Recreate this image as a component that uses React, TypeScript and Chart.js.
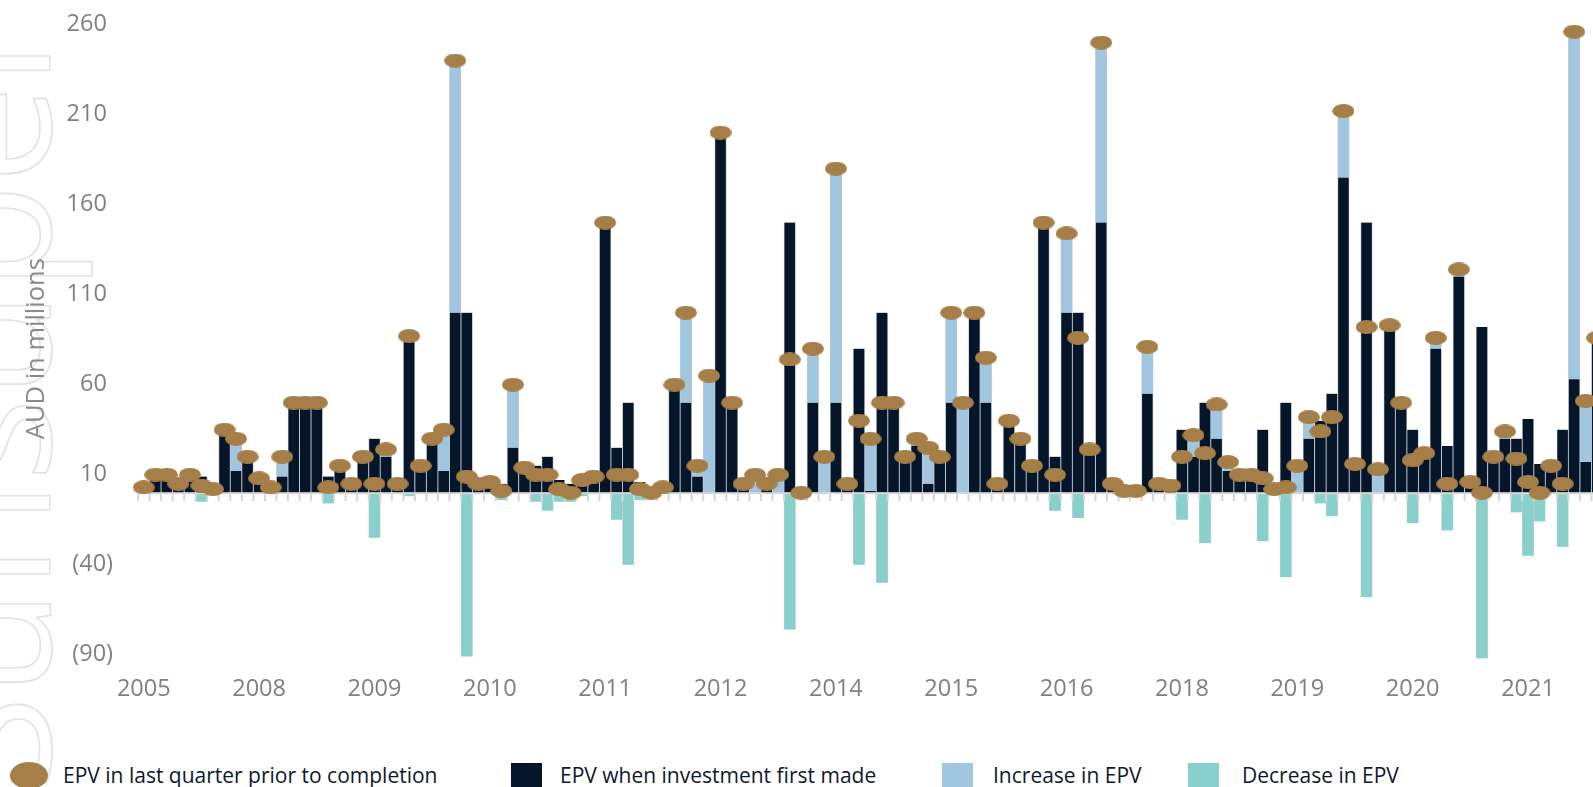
import { useEffect, useRef } from 'react';
import { Chart, registerables } from 'chart.js';

Chart.register(...registerables);

const years = [
  '2005', '2005', '2005', '2006', '2006', '2006', '2007', '2007', '2007', '2007',
  '2008', '2008', '2008', '2008', '2008', '2008', '2008', '2009', '2009', '2009',
  '2009', '2009', '2009', '2009', '2009', '2009', '2009', '2010', '2010', '2010',
  '2010', '2010', '2010', '2010', '2010', '2010', '2010', '2011', '2011', '2011',
  '2011', '2011', '2011', '2011', '2011', '2011', '2012', '2012', '2012', '2012',
  '2012', '2012', '2012', '2012', '2013', '2013', '2013', '2013', '2013', '2013',
  '2014', '2014', '2014', '2014', '2014', '2014', '2014', '2014', '2014', '2014',
  '2015', '2015', '2015', '2015', '2015', '2015', '2016', '2016', '2016', '2016',
  '2016', '2016', '2016', '2016', '2017', '2017', '2017', '2017', '2017', '2017',
  '2018', '2018', '2018', '2018', '2018', '2018', '2019', '2019', '2019', '2019',
  '2019', '2019', '2019', '2019', '2019', '2020', '2020', '2020', '2020', '2020',
  '2020', '2020', '2020', '2020', '2020', '2021', '2021', '2021', '2021', '2021',
  '2021', '2021', '2021', '2021', '2021', '2021', '2021',
];

const epvFirst = [
  3, 10, 10, 5, 10, 9, 2, 35, 12, 20,
  8, 3, 9, 50, 50, 50, 9, 15, 5, 20,
  30, 20, 5, 89, 15, 30, 12, 100, 100, 5,
  6, 5, 25, 14, 15, 20, 7, 5, 9, 9,
  150, 25, 50, 6, 1, 3, 58, 50, 9, 0,
  200, 50, 5, 0, 5, 0, 150, 0, 50, 0,
  50, 5, 80, 1, 100, 50, 20, 26, 5, 20,
  50, 0, 100, 50, 5, 40, 30, 15, 150, 20,
  100, 100, 24, 150, 5, 1, 1, 55, 5, 4,
  35, 20, 50, 30, 12, 10, 10, 35, 2, 50,
  0, 30, 40, 55, 175, 16, 150, 0, 90, 50,
  35, 22, 80, 26, 120, 6, 92, 20, 30, 30,
  41, 16, 15, 35, 63, 17, 86,
];

const increase = [
  0, 0, 0, 0, 0, 0, 0, 0, 18, 0,
  0, 0, 11, 0, 0, 0, 0, 0, 0, 0,
  0, 4, 0, 0, 0, 0, 23, 140, 0, 0,
  0, 0, 35, 0, 0, 0, 0, 0, 0, 0,
  0, 0, 0, 0, 0, 0, 2, 50, 6, 65,
  0, 0, 0, 10, 0, 10, 0, 0, 30, 20,
  130, 0, 0, 29, 0, 0, 0, 4, 20, 0,
  50, 50, 0, 25, 0, 0, 0, 0, 0, 0,
  44, 0, 0, 100, 0, 0, 0, 26, 0, 0,
  0, 12, 0, 19, 5, 0, 0, 0, 0, 0,
  15, 12, 0, 0, 37, 0, 0, 13, 3, 0,
  0, 0, 6, 0, 4, 0, 0, 0, 4, 0,
  0, 0, 0, 0, 193, 34, 0,
];

const decrease = [
  0, 0, 0, 0, 0, 5, 0, 0, 0, 0,
  0, 0, 0, 0, 0, 0, 6, 0, 0, 0,
  25, 0, 0, 2, 0, 0, 0, 0, 91, 0,
  0, 4, 0, 0, 5, 10, 5, 5, 2, 0,
  0, 15, 40, 4, 1, 0, 0, 0, 0, 0,
  0, 0, 0, 0, 0, 0, 76, 0, 0, 0,
  0, 0, 40, 0, 50, 0, 0, 0, 0, 0,
  0, 0, 0, 0, 0, 0, 0, 0, 0, 10,
  0, 14, 0, 0, 0, 0, 0, 0, 0, 0,
  15, 0, 28, 0, 0, 0, 0, 27, 0, 47,
  0, 0, 6, 13, 0, 0, 58, 0, 0, 0,
  17, 0, 0, 21, 0, 0, 92, 0, 0, 11,
  35, 16, 0, 30, 0, 0, 0,
];

const epvLast = [
  3, 10, 10, 5, 10, 4, 2, 35, 30, 20,
  8, 3, 20, 50, 50, 50, 3, 15, 5, 20,
  5, 24, 5, 87, 15, 30, 35, 240, 9, 5,
  6, 1, 60, 14, 10, 10, 2, 0, 7, 9,
  150, 10, 10, 2, 0, 3, 60, 100, 15, 65,
  200, 50, 5, 10, 5, 10, 74, 0, 80, 20,
  180, 5, 40, 30, 50, 50, 20, 30, 25, 20,
  100, 50, 100, 75, 5, 40, 30, 15, 150, 10,
  144, 86, 24, 250, 5, 1, 1, 81, 5, 4,
  20, 32, 22, 49, 17, 10, 10, 8, 2, 3,
  15, 42, 34, 42, 212, 16, 92, 13, 93, 50,
  18, 22, 86, 5, 124, 6, 0, 20, 34, 19,
  6, 0, 15, 5, 256, 51, 86,
];

const yTickValues = [-90, -40, 10, 60, 110, 160, 210, 260];
const yTickLabels = ['(90)', '(40)', '10 ', '60 ', '110 ', '160 ', '210 ', '260 '];

const seriesNames = [
  'EPV in last quarter prior to completion',
  'EPV when investment first made',
  'Increase in EPV',
  'Decrease in EPV',
];

const GOLD = '#a67f48';
const DARK = '#06162a';
const BLUE = '#a0c6e0';
const TEAL = '#87d0cb';
const FONT = '"Open Sans", "Noto Sans", sans-serif';

function makeEllipse(w: number, h: number, color: string) {
  const c = document.createElement('canvas');
  c.width = w;
  c.height = h;
  const g = c.getContext('2d')!;
  g.fillStyle = color;
  g.beginPath();
  g.ellipse(w / 2, h / 2, w / 2, h / 2, 0, 0, Math.PI * 2);
  g.fill();
  return c;
}

const zeroAxisPlugin = {
  id: 'zeroAxis',
  beforeDatasetDraw(chart: any, args: any) {
    if (args.index !== 0) return;
    const { ctx, chartArea, scales } = chart;
    const xs = scales.x;
    const ys = scales.y;
    const y0 = ys.getPixelForValue(0);
    const n = years.length;
    const step = xs.getPixelForValue(1) - xs.getPixelForValue(0);
    ctx.save();
    ctx.fillStyle = '#d7d7d7';
    ctx.fillRect(chartArea.left, y0 - 0.5, chartArea.right - chartArea.left, 2);
    for (let i = 0; i <= n; i++) {
      const px = i < n ? xs.getPixelForValue(i) - step / 2 : xs.getPixelForValue(n - 1) + step / 2;
      ctx.fillRect(px - 1, y0 + 1.5, 2, 7);
    }
    ctx.restore();
  },
};

export default function App() {
  const ref = useRef<HTMLCanvasElement | null>(null);

  useEffect(() => {
    if (!ref.current) return;
    const dot = makeEllipse(22, 14, GOLD);
    const barBorder = { top: 0, bottom: 0, left: 0.8, right: 0.8 };
    const chart = new Chart(ref.current, {
      type: 'bar',
      data: {
        labels: years,
        datasets: [
          {
            type: 'line',
            label: seriesNames[0],
            data: epvLast,
            showLine: false,
            pointStyle: dot as any,
            pointRadius: 5,
            pointHoverRadius: 5,
            backgroundColor: GOLD,
            borderColor: GOLD,
            borderWidth: 0,
            stack: 'dots',
            clip: false,
          } as any,
          {
            label: seriesNames[1],
            data: epvFirst.map((v) => (v ? v : null)),
            backgroundColor: DARK,
            borderColor: '#c2c7cd',
            borderWidth: barBorder,
            barPercentage: 1,
            categoryPercentage: 1,
            stack: 'epv',
          } as any,
          {
            label: seriesNames[2],
            data: increase.map((v) => (v ? v : null)),
            backgroundColor: BLUE,
            borderColor: '#c2c7cd',
            borderWidth: barBorder,
            barPercentage: 1,
            categoryPercentage: 1,
            stack: 'epv',
          } as any,
          {
            label: seriesNames[3],
            data: decrease.map((v) => (v ? -v : null)),
            backgroundColor: TEAL,
            borderColor: '#c2c7cd',
            borderWidth: barBorder,
            barPercentage: 1,
            categoryPercentage: 1,
            stack: 'epv',
          } as any,
        ],
      },
      options: {
        animation: false,
        responsive: true,
        maintainAspectRatio: false,
        layout: { padding: { top: 24.5, left: 0, right: 0, bottom: 0 } },
        plugins: {
          legend: { display: false },
          tooltip: { enabled: false },
        },
        scales: {
          x: {
            stacked: true,
            offset: true,
            grid: { display: false, drawTicks: false },
            border: { display: false },
            ticks: {
              autoSkip: false,
              maxRotation: 0,
              minRotation: 0,
              padding: 2,
              color: '#808080',
              font: { family: FONT, size: 23.5 },
              callback: (_v: any, i: number) => (i % 10 === 0 ? years[i] : ''),
            },
          },
          y: {
            stacked: true,
            min: -100,
            max: 260,
            afterBuildTicks: (s: any) => {
              s.ticks = yTickValues.map((v) => ({ value: v }));
            },
            afterFit: (s: any) => {
              s.width = 138;
              s.paddingTop = 0;
              s.paddingBottom = 0;
            },
            grid: { display: false, drawTicks: false },
            border: { display: false },
            ticks: {
              padding: 25,
              color: '#808080',
              font: { family: FONT, size: 23.5 },
              callback: (v: any) => {
                const k = yTickValues.indexOf(Number(v));
                return k >= 0 ? yTickLabels[k] : '';
              },
            },
            title: {
              display: true,
              text: 'AUD in millions',
              color: '#8a8a8a',
              font: { family: FONT, size: 25.5 },
              padding: { top: 21, bottom: 0 },
            },
          },
        },
      } as any,
      plugins: [zeroAxisPlugin],
    });
    return () => chart.destroy();
  }, []);

  const textStyle = {
    position: 'absolute' as const,
    top: 761,
    height: 28,
    lineHeight: '28px',
    fontSize: 21,
    fontFamily: FONT,
    color: '#0c1a2e',
    whiteSpace: 'nowrap' as const,
  };
  const box = (left: number, color: string) => ({
    position: 'absolute' as const,
    left,
    top: 763,
    width: 31,
    height: 31,
    background: color,
  });

  return (
    <div
      style={{
        position: 'fixed',
        left: 0,
        top: 0,
        width: 1593,
        height: 787,
        overflow: 'hidden',
        background: '#ffffff',
      }}
    >
      <div
        style={{
          position: 'absolute',
          left: -105,
          top: 792,
          transformOrigin: '0 0',
          transform: 'rotate(-90deg)',
          fontFamily: FONT,
          fontSize: 175,
          lineHeight: 1,
          whiteSpace: 'nowrap',
          color: 'transparent',
          WebkitTextStroke: '1.6px #e2e2e2',
        }}
      >
        Sunsuper
      </div>
      <div style={{ position: 'absolute', left: 0, top: 0, width: 1608, height: 705 }}>
        <canvas ref={ref} />
      </div>
      <div
        style={{
          position: 'absolute',
          left: 10,
          top: 762,
          width: 38,
          height: 27,
          borderRadius: '50%',
          background: GOLD,
        }}
      />
      <span style={{ ...textStyle, left: 63 }}>{seriesNames[0]}</span>
      <div style={box(511, DARK)} />
      <span style={{ ...textStyle, left: 560 }}>{seriesNames[1]}</span>
      <div style={box(942, BLUE)} />
      <span style={{ ...textStyle, left: 993 }}>{seriesNames[2]}</span>
      <div style={box(1188, TEAL)} />
      <span style={{ ...textStyle, left: 1242 }}>{seriesNames[3]}</span>
    </div>
  );
}
